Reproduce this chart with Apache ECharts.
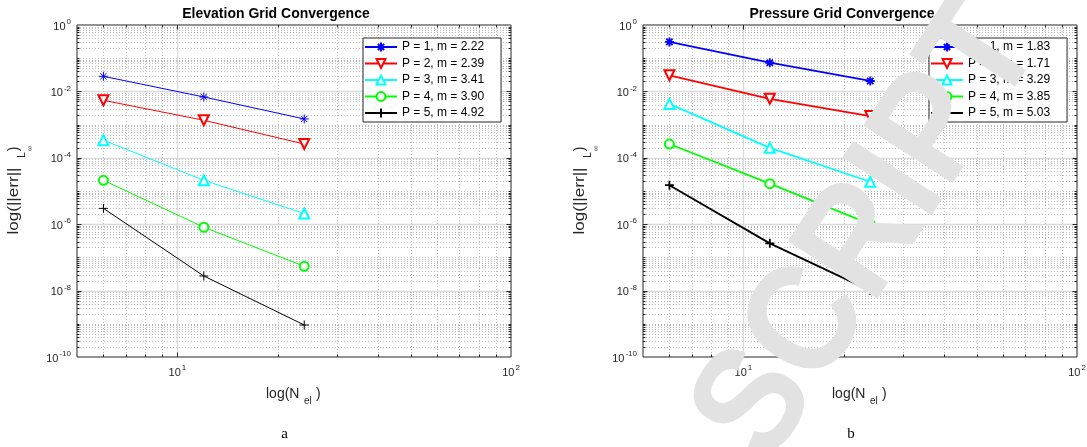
<!DOCTYPE html>
<html>
<head>
<meta charset="utf-8">
<script src="https://cdn.jsdelivr.net/npm/echarts@6/dist/echarts.min.js"></script>
<style>
  html, body { margin: 0; padding: 0; background: #fff; }
  #chart { width: 1087px; height: 447px; }
</style>
</head>
<body>
<div id="chart"></div>
<script>
// Number of elements in each refinement level
const nEl = [6, 12, 24];

// Elevation: max-norm error for polynomial orders P = 1..5
const elevP1 = [2.85e-2, 6.8e-3, 1.48e-3];
const elevP2 = [5.4e-3, 1.35e-3, 2.6e-4];
const elevP3 = [3.4e-4, 2.1e-5, 2.1e-6];
const elevP4 = [2.1e-5, 8.1e-7, 5.4e-8];
const elevP5 = [3.0e-6, 2.75e-8, 9.2e-10];

// Pressure: max-norm error for polynomial orders P = 1..5
const presP1 = [0.31, 7.3e-2, 2.06e-2];
const presP2 = [3.05e-2, 6.0e-3, 1.8e-3];
const presP3 = [4.2e-3, 2.0e-4, 1.9e-5];
const presP4 = [2.6e-4, 1.66e-5, 1.0e-6];
const presP5 = [1.5e-5, 2.65e-7, 1.0e-8];

// Fitted convergence rates shown in the legends
const orders = [1, 2, 3, 4, 5];
const elevSlopes = ['2.22', '2.39', '3.41', '3.90', '4.92'];
const presSlopes = ['1.83', '1.71', '3.29', '3.85', '5.03'];

// Labelled decades
const xTicks = [10, 100];
const yTicks = [1, 1e-2, 1e-4, 1e-6, 1e-8, 1e-10];

const FONT = '"Liberation Sans", Arial, Helvetica, sans-serif';
const AX = '#262626';

const colors = ['#0000ff', '#ff0000', '#00ffff', '#00ff00', '#000000'];
const symbols = [
  'path://M5,0L5,10M0,5L10,5M1.5,1.5L8.5,8.5M1.5,8.5L8.5,1.5',
  'emptyTriangle',
  'emptyTriangle',
  'emptyCircle',
  'path://M5,0L5,10M0,5L10,5'
];
const symbolRot = [0, 180, 0, 0, 0];
const symbolSizes = [9, 10, 10, 9, 9];

const GRIDS = [
  { left: 77, top: 25, width: 434, height: 332 },
  { left: 643, top: 25, width: 434, height: 332 }
];

function powLabel(v) {
  const e = Math.round(Math.log10(v));
  return '{b|10}{s|' + e + '}';
}
const tickRich = {
  b: { fontFamily: FONT, fontSize: 11, color: AX, lineHeight: 14, verticalAlign: 'bottom' },
  s: { fontFamily: FONT, fontSize: 8, color: AX, lineHeight: 8, verticalAlign: 'top', padding: [0, 0, 0, 1] }
};

// grid line positions: every j*10^n inside the axis ranges
function yGridValues() {
  const out = [];
  for (let n = -10; n < 0; n++) {
    for (let j = 1; j <= 9; j++) {
      if (j === 1 && n === -10) continue;
      const major = (j === 1 && n % 2 === 0) ? 1 : 0;
      out.push([10, j * Math.pow(10, n), major]);
    }
  }
  return out;
}
function xGridValues() {
  const out = [];
  for (let j = 6; j <= 9; j++) out.push([j, 1e-5, 0]);
  for (let j = 1; j <= 9; j++) out.push([j * 10, 1e-5, j === 1 ? 1 : 0]);
  return out;
}

const majorLine = { stroke: '#dadada', lineWidth: 1.3 };
const minorLine = { stroke: '#bdbdbd', lineWidth: 1, lineDash: [1, 2] };
const tickStyle = { stroke: AX, lineWidth: 1 };

function yGridItem(params, api) {
  const cs = params.coordSys;
  const y = Math.round(api.coord([api.value(0), api.value(1)])[1]) + 0.5;
  const major = api.value(2) === 1;
  const tl = major ? 4.5 : 2.5;
  return {
    type: 'group',
    children: [
      { type: 'line', shape: { x1: cs.x, y1: y, x2: cs.x + cs.width, y2: y }, style: major ? majorLine : minorLine },
      { type: 'line', shape: { x1: cs.x, y1: y, x2: cs.x + tl, y2: y }, style: tickStyle },
      { type: 'line', shape: { x1: cs.x + cs.width - tl, y1: y, x2: cs.x + cs.width, y2: y }, style: tickStyle }
    ]
  };
}
function xGridItem(params, api) {
  const cs = params.coordSys;
  const x = Math.round(api.coord([api.value(0), api.value(1)])[0]) + 0.5;
  const major = api.value(2) === 1;
  const tl = major ? 4.5 : 2.5;
  return {
    type: 'group',
    children: [
      { type: 'line', shape: { x1: x, y1: cs.y, x2: x, y2: cs.y + cs.height }, style: major ? majorLine : minorLine },
      { type: 'line', shape: { x1: x, y1: cs.y + cs.height - tl, x2: x, y2: cs.y + cs.height }, style: tickStyle },
      { type: 'line', shape: { x1: x, y1: cs.y, x2: x, y2: cs.y + tl }, style: tickStyle }
    ]
  };
}

function seriesSet(panel, slopes, rows, width) {
  const list = [];
  rows.forEach((vals, i) => {
    list.push({
      type: 'line',
      name: 'P = ' + orders[i] + ', m = ' + slopes[i],
      xAxisIndex: panel,
      yAxisIndex: panel,
      data: nEl.map((n, k) => [n, vals[k]]),
      symbol: symbols[i],
      symbolRotate: symbolRot[i],
      symbolSize: symbolSizes[i],
      showAllSymbol: true,
      lineStyle: { color: colors[i], width: width },
      itemStyle: { color: colors[i], borderColor: colors[i], borderWidth: width },
      z: 3
    });
  });
  list.push({
    type: 'custom', coordinateSystem: 'cartesian2d', xAxisIndex: panel, yAxisIndex: panel,
    data: yGridValues(), renderItem: yGridItem, silent: true, z: 1, clip: false
  });
  list.push({
    type: 'custom', coordinateSystem: 'cartesian2d', xAxisIndex: panel, yAxisIndex: panel,
    data: xGridValues(), renderItem: xGridItem, silent: true, z: 1, clip: false
  });
  return list;
}

function xAxisFor(i) {
  return {
    gridIndex: i, type: 'log', logBase: 10, min: 5, max: 100,
    axisLine: { show: false },
    axisTick: { show: false },
    splitLine: { show: false },
    axisLabel: { customValues: xTicks, formatter: powLabel, rich: tickRich, margin: 7 }
  };
}
function yAxisFor(i) {
  return {
    gridIndex: i, type: 'log', logBase: 10, min: 1e-10, max: 1,
    axisLine: { show: false },
    axisTick: { show: false },
    splitLine: { show: false },
    axisLabel: { customValues: yTicks, formatter: powLabel, rich: tickRich, margin: 6 }
  };
}

function legendFor(i, slopes) {
  return {
    orient: 'vertical',
    left: i === 0 ? 363 : 929,
    top: 38,
    data: orders.map((p, k) => 'P = ' + p + ', m = ' + slopes[k]),
    itemWidth: 32,
    itemHeight: 11,
    itemGap: 4.5,
    padding: [3, 17, 3, 1],
    borderColor: AX,
    borderWidth: 1,
    backgroundColor: '#fff',
    selectedMode: false,
    textStyle: { fontFamily: FONT, fontSize: 12, color: '#000', lineHeight: 11 }
  };
}

// axis titles, panel titles and captions
function panelText(dx, title) {
  return [
    { type: 'text', x: 276 + dx, y: 14, style: { text: title, font: 'bold 14px ' + FONT, fill: '#000', align: 'center', verticalAlign: 'middle' } },
    { type: 'text', x: 266 + dx, y: 394, style: { text: 'log(N', font: '14px ' + FONT, fill: AX, align: 'left', verticalAlign: 'middle' } },
    { type: 'text', x: 304 + dx, y: 401.5, style: { text: 'el', font: '10px ' + FONT, fill: AX, align: 'left', verticalAlign: 'middle' } },
    { type: 'text', x: 316 + dx, y: 394, style: { text: ')', font: '14px ' + FONT, fill: AX, align: 'left', verticalAlign: 'middle' } },
    { type: 'text', x: 14 + dx, y: 201, rotation: Math.PI / 2, scaleX: 1.22, style: { text: 'log(||err||', font: '14px ' + FONT, fill: AX, align: 'center', verticalAlign: 'middle' } },
    { type: 'text', x: 22.5 + dx, y: 155, rotation: Math.PI / 2, style: { text: 'L', font: '10px ' + FONT, fill: AX, align: 'center', verticalAlign: 'middle' } },
    { type: 'text', x: 30 + dx, y: 148.5, rotation: Math.PI / 2, style: { text: '\u221e', font: '7px ' + FONT, fill: AX, align: 'center', verticalAlign: 'middle' } },
    { type: 'text', x: 14 + dx, y: 149, rotation: Math.PI / 2, style: { text: ')', font: '14px ' + FONT, fill: AX, align: 'center', verticalAlign: 'middle' } }
  ];
}

const chart = echarts.init(document.getElementById('chart'), null, { renderer: 'canvas' });
chart.setOption({
  animation: false,
  backgroundColor: '#fff',
  grid: GRIDS.map(g => Object.assign({
    show: true, borderColor: AX, borderWidth: 1, backgroundColor: '#fff', containLabel: false, outerBoundsMode: 'none'
  }, g)),
  xAxis: [xAxisFor(0), xAxisFor(1)],
  yAxis: [yAxisFor(0), yAxisFor(1)],
  legend: [legendFor(0, elevSlopes), legendFor(1, presSlopes)],
  series: [].concat(
    seriesSet(0, elevSlopes, [elevP1, elevP2, elevP3, elevP4, elevP5], 1),
    seriesSet(1, presSlopes, [presP1, presP2, presP3, presP4, presP5], 1.8)
  ),
  graphic: [].concat(
    panelText(0, 'Elevation Grid Convergence'),
    panelText(566, 'Pressure Grid Convergence'),
    [
      { type: 'text', x: 284.5, y: 434, style: { text: 'a', font: '15px "Liberation Serif", "Times New Roman", serif', fill: '#000', align: 'center', verticalAlign: 'middle' } },
      { type: 'text', x: 851, y: 434, style: { text: 'b', font: '15px "Liberation Serif", "Times New Roman", serif', fill: '#000', align: 'center', verticalAlign: 'middle' } },
      // diagonal page watermark
      { type: 'text', x: 870, y: 232, rotation: 0.995, scaleY: 1.12, z: 100, silent: true,
        style: { text: 'SCRIPT', font: 'bold 138px ' + FONT, fill: '#e2e2e2', align: 'center', verticalAlign: 'middle' } }
    ]
  )
});
</script>
</body>
</html>
